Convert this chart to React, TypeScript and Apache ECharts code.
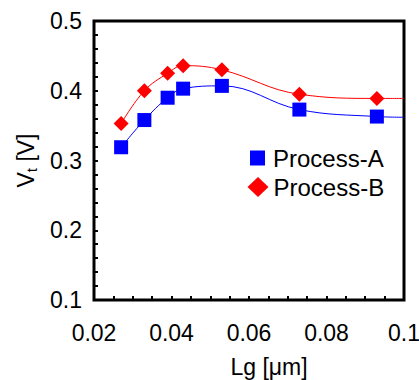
import React, { useEffect, useRef } from 'react';
import * as echarts from 'echarts';

// Gate length (µm)
const lg = [0.027, 0.033, 0.039, 0.043, 0.053, 0.073, 0.093];
// Threshold voltage (V)
const vtA = [0.319, 0.358, 0.39, 0.403, 0.407, 0.373, 0.363];
const vtB = [0.353, 0.4, 0.425, 0.436, 0.43, 0.395, 0.389];
// Fitted guide curves (pass through the data, extend to the frame)
const fitLg = [0.027, 0.033, 0.039, 0.043, 0.053, 0.073, 0.093, 0.1];
const fitA = [0.319, 0.358, 0.39, 0.403, 0.407, 0.373, 0.363, 0.362];
const fitB = [0.353, 0.4, 0.425, 0.436, 0.43, 0.395, 0.389, 0.389];

const FONT = '"Liberation Sans", Arial, sans-serif';
const BLUE = '#0000ff';
const RED = '#ff0000';

export default function App() {
  const ref = useRef<HTMLDivElement>(null);
  useEffect(() => {
    const chart = echarts.init(ref.current!, null, { renderer: 'svg' });
    const pairs = (xs: number[], ys: number[]) => xs.map((x, i) => [x, ys[i]]);
    chart.setOption({
      animation: false,
      backgroundColor: '#fff',
      textStyle: { fontFamily: FONT, color: '#000' },
      grid: {
        left: 94,
        right: 15,
        top: 21,
        bottom: 80,
        show: true,
        borderColor: '#000',
        borderWidth: 3,
        containLabel: false,
        outerBoundsMode: 'none',
      },
      legend: [
        {
          data: [{ name: 'Process-A', icon: 'rect' }],
          orient: 'vertical',
          left: 250,
          top: 146,
          padding: 0,
          itemWidth: 15,
          itemHeight: 15,
          textStyle: { fontFamily: FONT, fontSize: 24, color: '#000', padding: [0, 0, 0, 3] },
        },
        {
          data: [{ name: 'Process-B', icon: 'diamond' }],
          orient: 'vertical',
          left: 247.5,
          top: 175,
          padding: 0,
          itemWidth: 21,
          itemHeight: 20,
          textStyle: { fontFamily: FONT, fontSize: 24, color: '#000' },
        },
      ],
      xAxis: {
        type: 'value',
        min: 0.02,
        max: 0.1,
        interval: 0.02,
        name: 'Lg [μm]',
        nameLocation: 'middle',
        nameGap: 55,
        nameTextStyle: { fontFamily: FONT, fontSize: 23, color: '#000', padding: [0, 0, 0, 40] },
        axisLine: { show: false },
        axisTick: { show: true, inside: true, length: 4, lineStyle: { color: '#000', width: 2 } },
        minorTick: { show: true, splitNumber: 4, length: 4, lineStyle: { color: '#000', width: 2 } },
        splitLine: { show: false },
        axisLabel: {
          margin: 21,
          fontFamily: FONT,
          fontSize: 23,
          color: '#000',
          formatter: (v: number) => String(+v.toFixed(2)),
        },
      },
      yAxis: {
        type: 'value',
        min: 0.1,
        max: 0.5,
        interval: 0.1,
        name: '{v|V}{s|t}{v| [V]}',
        nameLocation: 'middle',
        nameRotate: 90,
        nameGap: 42,
        nameTextStyle: {
          fontFamily: FONT,
          color: '#000',
          rich: {
            v: { fontFamily: FONT, fontSize: 23, color: '#000' },
            s: { fontFamily: FONT, fontSize: 15, color: '#000', padding: [12, 0, 0, 0] },
          },
        },
        axisLine: { show: false },
        axisTick: { show: true, inside: true, length: 4, lineStyle: { color: '#000', width: 2 } },
        minorTick: { show: true, splitNumber: 5, length: 4, lineStyle: { color: '#000', width: 2 } },
        splitLine: { show: false },
        axisLabel: {
          margin: 12,
          fontFamily: FONT,
          fontSize: 23,
          color: '#000',
          formatter: (v: number) => String(+v.toFixed(1)),
        },
      },
      series: [
        {
          name: 'Fit-A',
          type: 'line',
          data: pairs(fitLg, fitA),
          smooth: 0.4,
          showSymbol: false,
          symbol: 'none',
          lineStyle: { color: BLUE, width: 1 },
          itemStyle: { color: BLUE },
          silent: true,
          z: 1,
        },
        {
          name: 'Fit-B',
          type: 'line',
          data: pairs(fitLg, fitB),
          smooth: 0.4,
          showSymbol: false,
          symbol: 'none',
          lineStyle: { color: RED, width: 1 },
          itemStyle: { color: RED },
          silent: true,
          z: 1,
        },
        {
          name: 'Process-A',
          type: 'scatter',
          data: pairs(lg, vtA),
          symbol: 'rect',
          symbolSize: 14,
          itemStyle: { color: BLUE, opacity: 1 },
          z: 3,
        },
        {
          name: 'Process-B',
          type: 'scatter',
          data: pairs(lg, vtB),
          symbol: 'diamond',
          symbolSize: 15,
          itemStyle: { color: RED, opacity: 1 },
          z: 3,
        },
      ],
    });
    return () => chart.dispose();
  }, []);
  return (
    <div
      ref={ref}
      style={{ position: 'fixed', left: 0, top: 0, width: 419, height: 380, background: '#fff' }}
    />
  );
}
